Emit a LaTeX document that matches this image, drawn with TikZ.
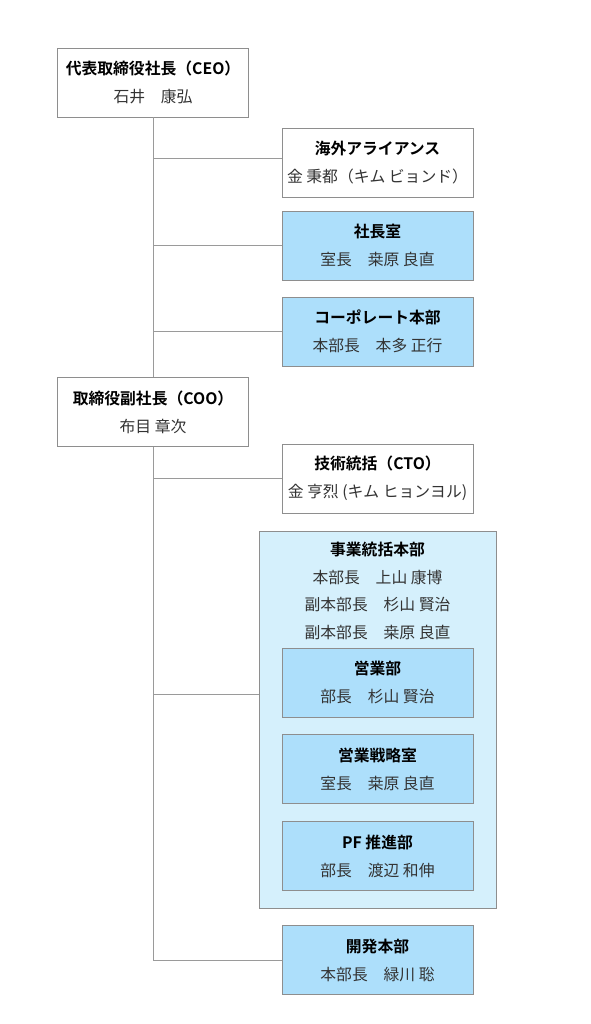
\documentclass[tikz,border=0pt]{standalone}
\usepackage{fontspec}
\setmainfont{Noto Sans CJK JP}[BoldFont={Noto Sans CJK JP Bold}]
\definecolor{boxline}{HTML}{8E8E8E}
\definecolor{connline}{HTML}{9A9A9A}
\definecolor{bluefill}{HTML}{ADDFFB}
\definecolor{groupfill}{HTML}{D5F0FC}
\definecolor{nametext}{HTML}{333333}
\tikzset{
  orgbox/.style={draw=boxline, line width=0.9pt, minimum width=191pt, minimum height=69pt,
    inner sep=0pt, align=center, font=\fontsize{15.8}{28}\selectfont},
  whitebox/.style={orgbox, fill=white},
  bluebox/.style={orgbox, fill=bluefill},
  groupbox/.style={draw=boxline, line width=0.9pt, fill=groupfill, minimum width=237pt,
    minimum height=377pt, inner sep=0pt},
  grouptext/.style={align=center, inner sep=0pt, font=\fontsize{15.8}{27.5}\selectfont},
  conn/.style={draw=connline, line width=0.9pt},
}
\newcommand{\ttl}[1]{\textbf{#1}}
\newcommand{\nm}[1]{\textcolor{nametext}{#1}}
\begin{document}
\begin{tikzpicture}[x=1pt, y=-1pt]
\useasboundingbox[fill=white] (0,0) rectangle (590,1024);
% top level
\node[whitebox] (ceo) at (153,82.5) {\ttl{代表取締役社長（CEO）}\\\nm{石井　康弘}};
\node[whitebox] (kaigai) at (377.5,162.5) {\ttl{海外アライアンス}\\\nm{金 秉都（キム ビョンド）}};
\node[bluebox] (shacho) at (377.5,245.5) {\ttl{社長室}\\\nm{室長　桒原 良直}};
\node[bluebox] (corp) at (377.5,331.5) {\ttl{コーポレート本部}\\\nm{本部長　本多 正行}};
\node[whitebox] (coo) at (153,412) {\ttl{取締役副社長（COO）}\\\nm{布目 章次}};
\node[whitebox] (cto) at (377.5,478.5) {\ttl{技術統括（CTO）}\\\nm{金 亨烈 (キム ヒョンヨル)}};
% business group
\node[groupbox] (jigyo) at (377.5,719.5) {};
\node[grouptext] (jigyotxt) at (377.5,591) {\ttl{事業統括本部}\\\nm{本部長　上山 康博}\\\nm{副本部長　杉山 賢治}\\\nm{副本部長　桒原 良直}};
\node[bluebox] (eigyo) at (377.5,682.5) {\ttl{営業部}\\\nm{部長　杉山 賢治}};
\node[bluebox] (senryaku) at (377.5,769) {\ttl{営業戦略室}\\\nm{室長　桒原 良直}};
\node[bluebox] (pf) at (377.5,856) {\ttl{PF 推進部}\\\nm{部長　渡辺 和伸}};
\node[bluebox] (kaihatsu) at (377.5,960) {\ttl{開発本部}\\\nm{本部長　緑川 聡}};
\coordinate (jin) at (259,694);
% connectors
\draw[conn] (ceo.south) -- (coo.north);
\draw[conn] (ceo.south) |- ([yshift=4.5pt]kaigai.west);
\draw[conn] (ceo.south) |- (shacho.west);
\draw[conn] (ceo.south) |- (corp.west);
\draw[conn] (coo.south) |- (cto.west);
\draw[conn] (coo.south) |- (jin);
\draw[conn] (coo.south) |- (kaihatsu.west);
\end{tikzpicture}
\end{document}
